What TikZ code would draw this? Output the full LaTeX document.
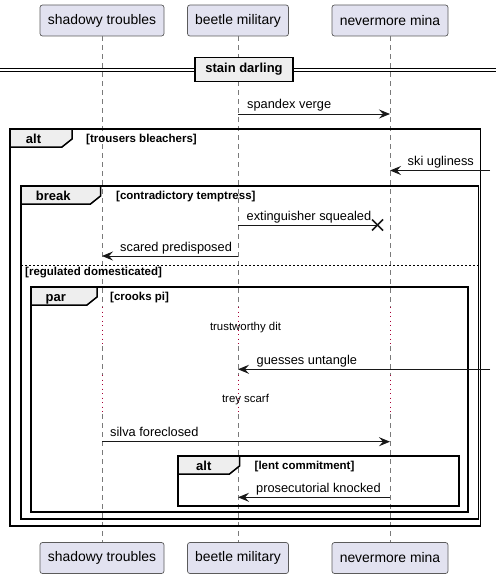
\documentclass[tikz,border=0pt]{standalone}
\usepackage{fontspec}
\setmainfont{Liberation Sans}
\usetikzlibrary{arrows.meta}

\definecolor{partfill}{HTML}{E2E2F0}
\definecolor{partline}{HTML}{5B5B5B}
\definecolor{tabfill}{HTML}{EEEEEE}
\definecolor{ink}{HTML}{181818}
\definecolor{lifegray}{HTML}{7A7A7A}
\definecolor{delayred}{HTML}{A80036}

\tikzset{
  part/.style={draw=partline, line width=0.7pt, fill=partfill, rounded corners=2.5pt,
    minimum height=31pt, inner sep=0pt, font=\fontsize{13.9}{16}\selectfont},
  life/.style={draw=lifegray, line width=0.8pt, dash pattern=on 5pt off 4pt},
  delay/.style={draw=delayred, line width=0.9pt, dash pattern=on 1pt off 3.5pt},
  msg/.style={draw=ink, line width=0.9pt, -{Stealth[length=11pt,width=9pt,inset=4pt]}},
  lost/.style={draw=ink, line width=0.9pt},
  cross/.style={draw=ink, line width=1.6pt},
  msglabel/.style={anchor=base west, inner sep=0pt, font=\fontsize{12.8}{15}\selectfont},
  frame/.style={draw=black, line width=1.5pt},
  separator/.style={draw=black, line width=0.9pt, dash pattern=on 2pt off 2pt},
  tab/.style={draw=black, line width=1.5pt, fill=tabfill},
  tablabel/.style={anchor=base, inner sep=0pt, font=\fontsize{13}{15}\selectfont\bfseries},
  guard/.style={anchor=base west, inner sep=0pt, font=\fontsize{11.5}{13}\selectfont\bfseries},
  delaynote/.style={anchor=base, inner sep=0pt, font=\fontsize{11.4}{13}\selectfont},
  divbox/.style={draw=black, line width=1.5pt, fill=tabfill, minimum width=98pt,
    minimum height=24pt, inner sep=0pt, font=\fontsize{13}{15}\selectfont\bfseries},
  divline/.style={draw=black, line width=0.9pt},
}

\begin{document}
\begin{tikzpicture}[x=1pt,y=-1pt]
\useasboundingbox (0,0) rectangle (496,578);

% participants, top and bottom
\node[part, minimum width=124pt] (sT) at (102,20.5) {shadowy troubles};
\node[part, minimum width=101pt] (bT) at (238,20.5) {beetle military};
\node[part, minimum width=116pt] (nT) at (390,20.5) {nevermore mina};
\node[part, minimum width=124pt] (sB) at (102,558) {shadowy troubles};
\node[part, minimum width=101pt] (bB) at (238,558) {beetle military};
\node[part, minimum width=116pt] (nB) at (390,558) {nevermore mina};

% lifelines with the two delay stretches
\foreach \p/\x in {s/102, b/238, n/390} {
  \coordinate (\p1) at (\x,307);
  \coordinate (\p2) at (\x,346);
  \coordinate (\p3) at (\x,375);
  \coordinate (\p4) at (\x,414);
}
\foreach \p in {s, b, n} {
  \draw[life] (\p T.south) -- (\p1);
  \draw[delay] (\p1) -- (\p2);
  \draw[life] (\p2) -- (\p3);
  \draw[delay] (\p3) -- (\p4);
  \draw[life] (\p4) -- (\p B.north);
}

% divider
\coordinate (dl1) at (0,68);   \coordinate (dr1) at (496,68);
\coordinate (dl2) at (0,71.5); \coordinate (dr2) at (496,71.5);
\draw[divline] (dl1) -- (dr1);
\draw[divline] (dl2) -- (dr2);
\node[divbox] (div) at (244,69.5) {stain darling};

% combined fragments
\draw[frame] (10,129) rectangle (480.5,526);
\draw[tab] (10,129) -- (72,129) -- (72,139) -- (62,147) -- (10,147) -- cycle;
\node[tablabel] (altA) at (33.5,143.5) {alt};
\node[guard] (gA) at (86,142.5) {[trousers bleachers]};

\draw[frame] (21,186) rectangle (478.5,519);
\draw[tab] (21,186) -- (100.5,186) -- (100.5,196) -- (90.5,204) -- (21,204) -- cycle;
\node[tablabel] (brk) at (53.3,200) {break};
\node[guard] (gB) at (116,199) {[contradictory temptress]};

\draw[separator] (21,265) -- (478.5,265);
\node[guard] (gC) at (25,275.5) {[regulated domesticated]};

\draw[frame] (31,287) rectangle (468,512);
\draw[tab] (31,287) -- (97,287) -- (97,297) -- (87,305) -- (31,305) -- cycle;
\node[tablabel] (par) at (55.7,301.5) {par};
\node[guard] (gD) at (110,300) {[crooks pi]};

\draw[frame] (178,456) rectangle (459,506);
\draw[tab] (178,456) -- (239.5,456) -- (239.5,466) -- (229.5,474) -- (178,474) -- cycle;
\node[tablabel] (altB) at (203.8,470.5) {alt};
\node[guard] (gE) at (254.5,469) {[lent commitment]};

% delay texts
\node[delaynote] (dn1) at (245.5,330.5) {trustworthy dit};
\node[delaynote] (dn2) at (245.5,402.3) {trey scarf};

% messages
\coordinate (m1s) at (238,114);   \coordinate (m1e) at (390,114);
\draw[msg] (m1s) -- (m1e);
\node[msglabel] (l1) at (247,108.5) {spandex verge};

\coordinate (m2s) at (490,170.5); \coordinate (m2e) at (390,170.5);
\draw[msg] (m2s) -- (m2e);
\node[msglabel] (l2) at (407.5,165) {ski ugliness};

\coordinate (m3s) at (238,225);   \coordinate (m3e) at (377.5,225);
\draw[lost] (m3s) -- (m3e);
\draw[cross] ([shift={(-5.5,-5.5)}]m3e) -- ([shift={(5.5,5.5)}]m3e);
\draw[cross] ([shift={(-5.5,5.5)}]m3e) -- ([shift={(5.5,-5.5)}]m3e);
\node[msglabel] (l3) at (246.5,220.5) {extinguisher squealed};

\coordinate (m4s) at (238,256);   \coordinate (m4e) at (102,256);
\draw[msg] (m4s) -- (m4e);
\node[msglabel] (l4) at (120,251) {scared predisposed};

\coordinate (m5s) at (490,369.3); \coordinate (m5e) at (238,369.3);
\draw[msg] (m5s) -- (m5e);
\node[msglabel] (l5) at (256.5,364.5) {guesses untangle};

\coordinate (m6s) at (102,441.7); \coordinate (m6e) at (390,441.7);
\draw[msg] (m6s) -- (m6e);
\node[msglabel] (l6) at (110,436.7) {silva foreclosed};

\coordinate (m7s) at (390,497.3); \coordinate (m7e) at (238,497.3);
\draw[msg] (m7s) -- (m7e);
\node[msglabel] (l7) at (256,492) {prosecutorial knocked};
\end{tikzpicture}
\end{document}
